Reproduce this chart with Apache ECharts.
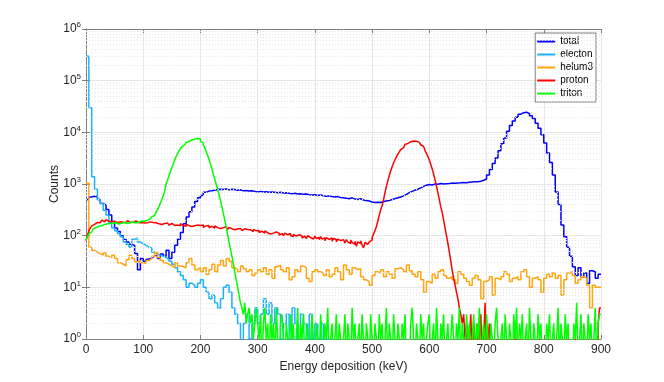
<!DOCTYPE html>
<html>
<head>
<meta charset="utf-8">
<script src="https://cdn.jsdelivr.net/npm/echarts@6/dist/echarts.min.js"></script>
<style>
html, body { margin: 0; padding: 0; background: #fff; }
#chart { width: 664px; height: 382px; }
</style>
</head>
<body>
<div id="chart"></div>
<script>
// histogram bins (keV): total/electron/helium3 use 5 keV, proton/triton 2.5 keV
var coarseBin = 5;
var fineBin = 2.5;
var seriesNames = ['total', 'electon', 'helum3', 'proton', 'triton'];
var xTicks = [0, 100, 200, 300, 400, 500, 600, 700, 800, 900];

var total = [
  500, 560, 580, 570, 500, 420, 390, 320, 250, 190,
  140, 120, 100, 85, 75, 68, 65, 45, 22, 36,
  32, 35, 37, 40, 42, 36, 44, 40, 52, 36,
  48, 65, 85, 115, 170, 230, 290, 360, 460, 540,
  600, 690, 730, 740, 760, 780, 790, 780, 800, 770,
  790, 780, 760, 770, 740, 750, 730, 740, 720, 700,
  720, 700, 710, 690, 700, 690, 680, 690, 670, 680,
  660, 650, 660, 640, 650, 630, 640, 620, 610, 620,
  600, 610, 590, 580, 590, 570, 560, 570, 550, 540,
  530, 520, 540, 510, 500, 520, 490, 480, 470, 450,
  440, 445, 440, 460, 470, 480, 500, 520, 540, 560,
  590, 630, 680, 720, 760, 790, 840, 900, 950, 980,
  960, 1000, 990, 1020, 1000, 1010, 1020, 1040, 1030, 1040,
  1060, 1070, 1060, 1080, 1090, 1100, 1110, 1130, 1180, 1250,
  1500, 1900, 2500, 3200, 4400, 6000, 7800, 10500, 13500, 16500,
  19500, 22500, 24000, 24500, 23000, 21000, 18500, 15000, 12000, 9000,
  6200, 4000, 2600, 1500, 700, 400, 160, 95, 60, 40,
  25, 17, 24, 16, 19, 12, 21, 20, 15, 18
];

var electron = [
  296000, 30000, 1380, 790, 500, 420, 310, 250, 175, 140,
  125, 110, 95, 75, 68, 60, 85, 90, 75, 70,
  65, 60, 58, 48, 45, 42, 40, 38, 35, 32,
  28, 24, 20, 17, 14, 10, 12, 11, 10, 12,
  14, 10, 8, 6, 7, 5, 4, 6, 10, 11,
  8, 4, 3, 2, 0, 2, 3, 1, 2, 4,
  2, 3, 6, 3, 5, 2, 4, 3, 1, 2,
  3, 1, 4, 2, 1, 3, 2, 1, 3, 1,
  2, 1, 2, 0, 1, 0, 0, 0, 0, 0,
  0, 0, 0, 0, 0, 0, 0, 0, 0, 0,
  0, 0, 0, 0, 0, 0, 0, 0, 0, 0,
  0, 0, 0, 0, 0, 0, 0, 0, 0, 0,
  0, 0, 0, 0, 0, 0, 0, 0, 0, 0,
  0, 0, 0, 0, 0, 0, 0, 0, 0, 0,
  0, 0, 0, 0, 0, 0, 0, 0, 0, 0,
  0, 0, 0, 0, 0, 0, 0, 0, 0, 0,
  0, 0, 0, 0, 0, 0, 0, 0, 0, 0,
  0, 0, 0, 0, 0, 0, 0, 0, 0, 0
];

var helium3 = [
  1050, 60, 52, 48, 45, 42, 46, 40, 38, 42,
  36, 30, 28, 26, 34, 42, 36, 31, 33, 30,
  29, 33, 36, 40, 47, 38, 33, 30, 28, 26,
  24, 30, 26, 25, 24, 30, 36, 27, 22, 24,
  20, 24, 18, 22, 28, 20, 27, 33, 26, 36,
  32, 24, 22, 20, 26, 23, 20, 22, 17, 19,
  22, 20, 24, 18, 22, 15, 25, 27, 22, 20,
  24, 14, 16, 22, 20, 26, 24, 15, 13, 20,
  22, 20, 19, 17, 22, 16, 18, 24, 20, 14,
  27, 22, 18, 24, 22, 23, 16, 14, 13, 11,
  17, 20, 19, 22, 16, 20, 18, 15, 23, 24,
  22, 20, 27, 21, 18, 16, 20, 14, 8, 13,
  12, 18, 15, 20, 22, 17, 15, 16, 14, 12,
  20, 18, 15, 13, 11, 15, 17, 14, 6, 13,
  14, 16, 7, 15, 14, 16, 20, 18, 13, 15,
  16, 14, 20, 22, 16, 10, 15, 16, 14, 8,
  15, 18, 16, 19, 15, 17, 7, 14, 19, 20,
  17, 12, 14, 16, 15, 11, 4, 11, 10, 10
];

var proton = [
  80, 100, 125, 140, 155, 165, 170, 180, 185, 178, 190, 200, 185, 195, 205, 190, 200, 185, 195, 188,
  192, 180, 195, 185, 198, 182, 190, 178, 188, 195, 180, 190, 185, 176, 192, 182, 178, 188, 180, 185,
  175, 188, 178, 170, 185, 172, 180, 168, 178, 183, 170, 176, 165, 180, 172, 162, 175, 168, 160, 172,
  168, 158, 172, 160, 165, 155, 170, 158, 162, 152, 168, 156, 160, 150, 163, 155, 148, 160, 152, 158,
  150, 160, 145, 155, 148, 158, 142, 152, 145, 140, 155, 143, 150, 138, 148, 142, 135, 150, 140, 132,
  145, 136, 142, 130, 140, 135, 128, 138, 130, 125, 136, 128, 132, 122, 130, 126, 120, 132, 124, 118,
  126, 115, 122, 118, 112, 124, 114, 120, 108, 116, 112, 105, 118, 108, 112, 102, 110, 106, 100, 112,
  104, 98, 110, 100, 96, 106, 98, 92, 104, 96, 100, 90, 98, 94, 88, 100, 92, 96, 86, 94,
  98, 88, 92, 84, 96, 86, 90, 80, 92, 85, 82, 90, 78, 88, 84, 76, 86, 80, 74, 84,
  80, 72, 84, 76, 70, 82, 74, 68, 78, 62, 76, 70, 80, 66, 58, 74, 68, 72, 76, 82,
  92, 108, 125, 150, 190, 250, 320, 380, 500, 680, 900, 1150, 1450, 1800, 2150, 2550, 2950, 3350, 3800, 4200,
  4650, 5050, 5450, 5800, 6100, 6350, 6550, 6700, 6800, 6800, 6750, 6600, 6400, 6100, 5750, 5350, 4900, 4400, 3900, 3400,
  2900, 2400, 1950, 1550, 1200, 900, 680, 500, 360, 280, 200, 140, 100, 70, 48, 32, 21, 15, 11, 8,
  6, 4, 3, 2, 3, 1, 2, 0, 1, 3, 0, 2, 1, 0, 2, 1, 3, 0, 1, 5,
  0, 1, 2, 0, 1, 0, 0, 1, 0, 0, 1, 0, 0, 0, 1, 0, 0, 1, 0, 0,
  2, 0, 0, 1, 0, 0, 0, 0, 1, 0, 0, 0, 1, 0, 0, 0, 0, 1, 0, 0,
  1, 0, 0, 0, 0, 0, 1, 0, 0, 0, 0, 0, 0, 1, 0, 0, 0, 0, 1, 0,
  0, 0, 1, 0, 0, 0, 0, 0, 1, 0, 0, 0, 0, 0, 0, 1, 0, 0, 2, 4
];

var triton = [
  82, 95, 108, 118, 128, 136, 142, 148, 152, 158, 156, 162, 165, 160, 170, 166, 172, 168, 175, 170,
  178, 172, 168, 180, 174, 170, 182, 176, 172, 184, 178, 174, 186, 180, 176, 188, 182, 178, 192, 186,
  190, 196, 200, 208, 212, 222, 232, 245, 262, 285, 320, 360, 430, 500, 590, 720, 1000, 1200, 1450, 1750,
  2050, 2450, 2900, 3400, 3900, 4350, 4800, 5250, 5700, 6050, 6350, 6650, 6900, 7100, 7250, 7400, 7500, 7600, 7600, 7550,
  6700, 6250, 5700, 5050, 4300, 3600, 3000, 2450, 1950, 1550, 1250, 1000, 800, 620, 480, 360, 270, 200, 145, 105,
  75, 55, 40, 29, 20, 14, 10, 7, 5, 4, 3, 5, 2, 3, 4, 2, 3, 1, 2, 4,
  2, 1, 3, 0, 2, 4, 1, 2, 0, 3, 1, 2, 0, 4, 1, 0, 2, 3, 1, 0,
  2, 1, 0, 3, 1, 2, 0, 1, 4, 0, 2, 1, 3, 0, 1, 2, 0, 1, 3, 1,
  0, 2, 1, 0, 3, 1, 0, 2, 1, 4, 0, 1, 2, 0, 1, 3, 0, 2, 1, 0,
  1, 3, 0, 2, 1, 0, 4, 1, 2, 0, 1, 2, 0, 3, 1, 0, 2, 1, 0, 3,
  1, 0, 2, 1, 0, 3, 1, 2, 0, 1, 4, 0, 2, 1, 0, 3, 1, 0, 2, 1,
  0, 2, 1, 3, 0, 1, 0, 2, 4, 1, 0, 2, 1, 0, 3, 1, 2, 0, 1, 2,
  3, 0, 1, 2, 0, 4, 1, 0, 2, 1, 3, 0, 1, 2, 0, 1, 3, 1, 0, 2,
  1, 4, 0, 2, 1, 0, 3, 1, 2, 0, 1, 3, 0, 2, 1, 4, 0, 1, 2, 0,
  3, 1, 0, 2, 1, 0, 2, 4, 1, 0, 1, 2, 0, 3, 1, 0, 2, 1, 0, 3,
  1, 4, 0, 2, 1, 3, 0, 1, 2, 0, 4, 1, 0, 2, 1, 0, 3, 1, 2, 0,
  1, 0, 2, 1, 3, 0, 1, 2, 0, 1, 4, 0, 2, 1, 0, 3, 1, 2, 0, 1,
  0, 2, 1, 5, 0, 1, 3, 0, 2, 1, 0, 3, 1, 2, 0, 1, 4, 0, 2, 3
];

var colors = ['#0000ff', '#19b2ff', '#ffa510', '#ff0000', '#00ff00'];
var allCounts = [total, electron, helium3, proton, triton];
var binWidths = [coarseBin, coarseBin, coarseBin, fineBin, fineBin];

// zero-count bins drop below the axis floor and get clipped
function toStairs(counts, width) {
  var pts = counts.map(function (c, i) {
    return [i * width, c > 0 ? c : 0.3];
  });
  var last = counts[counts.length - 1];
  pts.push([counts.length * width, last > 0 ? last : 0.3]);
  return pts;
}

// dotted minor grid at 2..9 of every decade
var minorLines = [];
for (var k = 0; k < 6; k++) {
  for (var m = 2; m <= 9; m++) minorLines.push({ yAxis: m * Math.pow(10, k) });
}

var chart = echarts.init(document.getElementById('chart'));

var font = 'Liberation Sans, Arial, sans-serif';
var textColor = '#262626';
var boxColor = '#808080';

var series = [{
  name: 'minor',
  type: 'line',
  data: [],
  silent: true,
  z: 1,
  markLine: {
    silent: true,
    symbol: ['none', 'none'],
    label: { show: false },
    animation: false,
    lineStyle: { color: '#e4e4e4', type: [1, 2], width: 1 },
    data: minorLines
  }
}];

seriesNames.forEach(function (name, i) {
  series.push({
    name: name,
    type: 'line',
    step: 'end',
    symbol: 'none',
    showSymbol: false,
    clip: true,
    z: 2 + i,
    color: colors[i],
    lineStyle: { width: 1.5, color: colors[i] },
    data: toStairs(allCounts[i], binWidths[i])
  });
});

chart.setOption({
  animation: false,
  backgroundColor: '#fff',
  textStyle: { fontFamily: font },
  grid: { left: 86, right: 63, top: 29, bottom: 43 },
  legend: {
    data: seriesNames,
    orient: 'vertical',
    right: 68,
    top: 33,
    backgroundColor: '#fff',
    borderColor: textColor,
    borderWidth: 0.6,
    borderRadius: 0,
    padding: [3, 3, 3, 2],
    itemGap: 2,
    itemWidth: 18,
    itemHeight: 2,
    icon: 'rect',
    textStyle: { fontSize: 10, color: '#000', lineHeight: 11 }
  },
  xAxis: [{
    type: 'value',
    min: 0,
    max: 900,
    interval: 100,
    name: 'Energy deposition (keV)',
    nameLocation: 'middle',
    nameGap: 22,
    nameMoveOverlap: false,
    nameTextStyle: { fontSize: 12, color: textColor },
    axisLine: { onZero: false, lineStyle: { color: boxColor, width: 1 } },
    axisTick: { inside: true, length: 4, lineStyle: { color: boxColor } },
    axisLabel: { color: textColor, fontSize: 12, margin: 5, customValues: xTicks },
    splitLine: { show: true, lineStyle: { color: '#e6e6e6', width: 1 } }
  }, {
    type: 'value',
    position: 'top',
    min: 0,
    max: 900,
    interval: 100,
    axisLine: { onZero: false, lineStyle: { color: boxColor, width: 1 } },
    axisTick: { inside: true, length: 4, lineStyle: { color: boxColor } },
    axisLabel: { show: false },
    splitLine: { show: false }
  }],
  yAxis: [{
    type: 'log',
    logBase: 10,
    min: 1,
    max: 1000000,
    splitNumber: 6,
    name: 'Counts',
    nameLocation: 'middle',
    nameGap: 25,
    nameMoveOverlap: false,
    nameTextStyle: { fontSize: 12, color: textColor },
    axisLine: { show: true, lineStyle: { color: boxColor, width: 1 } },
    axisTick: { inside: true, length: 4, lineStyle: { color: boxColor } },
    axisLabel: {
      color: textColor, fontSize: 12, margin: 5,
      formatter: function (v) {
        var e = Math.round(Math.log(v) / Math.LN10);
        return '10{s|' + e + '}';
      },
      rich: { s: { fontSize: 8, color: textColor, verticalAlign: 'bottom', padding: [0, 0, 8, 0] } }
    },
    splitLine: { show: true, lineStyle: { color: '#e6e6e6', width: 1 } }
  }, {
    type: 'log',
    logBase: 10,
    min: 1,
    max: 1000000,
    splitNumber: 6,
    position: 'right',
    axisLine: { show: true, lineStyle: { color: boxColor, width: 1 } },
    axisTick: { inside: true, length: 4, lineStyle: { color: boxColor } },
    axisLabel: { show: false },
    splitLine: { show: false }
  }],
  series: series
});
</script>
</body>
</html>
